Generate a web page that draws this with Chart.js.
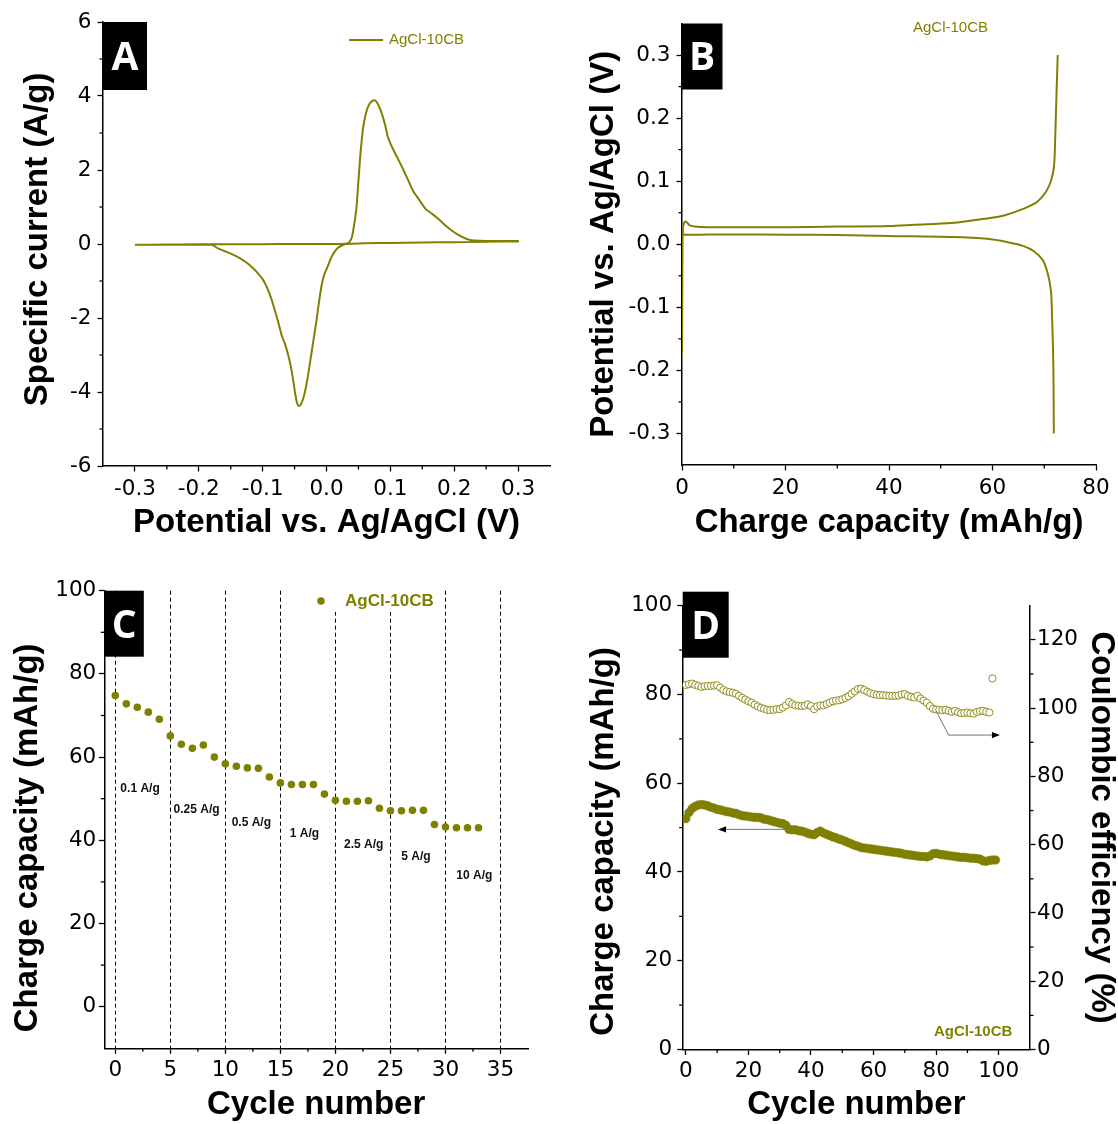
<!DOCTYPE html>
<html><head><meta charset="utf-8">
<script src="https://cdn.jsdelivr.net/npm/chart.js@4.4.1/dist/chart.umd.min.js"></script>
<style>
html,body{margin:0;padding:0;background:#fff}
body{width:1118px;height:1124px;position:relative;overflow:hidden}
canvas{position:absolute;display:block}
</style></head><body>
<canvas id="cA" width="559" height="560" style="left:0;top:0"></canvas>
<canvas id="cB" width="559" height="560" style="left:559px;top:0"></canvas>
<canvas id="cC" width="559" height="564" style="left:0;top:560px"></canvas>
<canvas id="cD" width="559" height="564" style="left:559px;top:560px"></canvas>
<script>
// ---------- DATA ----------
// Panel A: cyclic voltammogram (forward scan then reverse scan)
const cvPotential = [-0.30,-0.25,-0.20,-0.15,-0.10,-0.05,0.00,0.030,0.036,0.040,0.044,0.047,0.050,0.053,0.057,0.062,0.067,0.072,0.076,0.080,0.084,0.088,0.092,0.096,0.100,0.106,0.112,0.120,0.128,0.136,0.145,0.155,0.165,0.175,0.185,0.195,0.205,0.215,0.225,0.240,0.270,0.300,
  0.300,0.250,0.200,0.150,0.100,0.060,0.040,0.030,0.024,0.018,0.013,0.007,0.002,-0.004,-0.008,-0.012,-0.016,-0.020,-0.024,-0.028,-0.032,-0.036,-0.040,-0.043,-0.046,-0.049,-0.052,-0.056,-0.060,-0.065,-0.070,-0.075,-0.080,-0.086,-0.093,-0.100,-0.108,-0.117,-0.127,-0.138,-0.150,-0.160,-0.170,-0.176,-0.180,-0.240,-0.300];
const cvCurrent = [-0.02,-0.015,-0.01,-0.005,-0.005,0.0,0.0,0.01,0.05,0.2,0.6,1.0,1.7,2.4,3.1,3.55,3.78,3.87,3.88,3.8,3.65,3.45,3.2,2.9,2.72,2.5,2.3,2.02,1.72,1.42,1.2,0.95,0.82,0.68,0.52,0.38,0.26,0.17,0.11,0.09,0.08,0.08,
  0.07,0.06,0.05,0.04,0.03,0.02,0.01,0.0,-0.04,-0.1,-0.2,-0.38,-0.6,-0.85,-1.15,-1.6,-2.1,-2.55,-3.0,-3.45,-3.85,-4.15,-4.33,-4.38,-4.3,-4.05,-3.7,-3.3,-3.0,-2.7,-2.48,-2.15,-1.85,-1.5,-1.18,-0.95,-0.78,-0.62,-0.48,-0.36,-0.26,-0.19,-0.12,-0.05,-0.02,-0.02,-0.02];

// Panel B: galvanostatic charge / discharge
const chgCapacity = [0,0.05,0.1,0.2,0.4,0.7,1.0,1.5,2.5,5,10,20,30,40,45,52.1,59.0,62.4,65.9,68.6,70.4,71.4,71.9,72.1,72.3,72.6];
const chgPotential = [-0.175,-0.1,0.0,0.025,0.034,0.036,0.034,0.030,0.028,0.027,0.027,0.027,0.028,0.029,0.031,0.0336,0.041,0.046,0.056,0.067,0.084,0.103,0.125,0.164,0.219,0.300];
const dchCapacity = [0,0.3,1,5,10,20,30,40,52.1,59.0,63.1,65.9,68.0,69.7,70.7,71.3,71.5,71.7,71.8,71.85];
const dchPotential = [0.022,0.016,0.015,0.0155,0.0155,0.0152,0.0145,0.013,0.0114,0.0086,0.003,-0.0025,-0.011,-0.025,-0.047,-0.075,-0.113,-0.169,-0.225,-0.300];

// Panel C: rate capability
const rateCycle = [0,1,2,3,4,5,6,7,8,9,10,11,12,13,14,15,16,17,18,19,20,21,22,23,24,25,26,27,28,29,30,31,32,33];
const rateCapacity = [74.8,72.8,72.0,70.8,69.1,65.1,63.1,62.1,62.9,60.0,58.4,57.8,57.4,57.3,55.2,53.8,53.4,53.4,53.4,51.1,49.6,49.4,49.4,49.5,47.7,47.1,47.1,47.2,47.2,43.8,43.2,43.0,43.0,43.0];
const rateNames = ['0.1 A/g','0.25 A/g','0.5 A/g','1 A/g','2.5 A/g','5 A/g','10 A/g'];
const rateNameX = [0.46,5.29,10.57,15.86,20.78,25.98,30.99];
const rateNameY = [52.4,47.4,44.2,41.6,38.9,36.1,31.5];

// Panel D: cycling stability
const cycleNo = Array.from({length:100},(_,i)=>i);
const cycleCapacity = [52.0,53.4,54.3,54.8,55.1,55.2,55.1,54.9,54.6,54.4,54.1,54.0,53.8,53.6,53.5,53.3,53.2,52.9,52.7,52.6,
  52.5,52.4,52.3,52.3,52.2,51.9,51.8,51.6,51.4,51.2,51.0,50.9,50.5,49.6,49.5,49.5,49.3,49.2,49.0,48.7,
  48.5,48.4,48.9,49.2,48.8,48.5,48.2,47.9,47.7,47.4,47.2,46.9,46.6,46.3,46.0,45.8,45.5,45.4,45.3,45.2,
  45.1,45.0,44.9,44.8,44.7,44.6,44.5,44.4,44.3,44.2,44.0,43.9,43.8,43.7,43.6,43.5,43.5,43.4,43.6,44.1,
  44.2,44.0,43.9,43.8,43.7,43.6,43.5,43.4,43.3,43.3,43.2,43.1,43.1,43.0,42.9,42.5,42.4,42.6,42.7,42.7];
const cycleCE = [106.8,107.0,107.2,106.8,106.5,106.2,106.4,106.5,106.5,106.6,106.7,106.0,105.3,104.9,104.7,104.5,104.2,103.6,103.0,102.5,
  102.0,101.6,101.0,100.5,100.1,99.8,99.5,99.4,99.5,99.7,99.7,100.2,100.8,101.8,101.2,100.8,100.7,100.6,100.7,101.1,
  100.6,99.7,100.5,100.8,100.8,101.2,101.6,102.0,102.2,102.3,102.6,103.0,103.5,104.2,104.9,105.6,105.7,105.3,104.8,104.4,
  104.1,103.9,103.8,103.8,103.7,103.6,103.6,103.6,103.7,104.0,104.1,103.6,103.3,103.1,103.6,102.8,102.2,101.6,100.6,99.8,
  99.6,99.5,99.4,99.5,99.2,98.9,99.2,98.8,98.5,98.6,98.7,98.5,98.4,98.9,99.1,99.2,98.9,98.7,108.7];

// Tick values
const aXTicks=[-0.3,-0.2,-0.1,0,0.1,0.2,0.3], aXMinor=[-0.25,-0.15,-0.05,0.05,0.15,0.25];
const aYTicks=[-6,-4,-2,0,2,4,6], aYMinor=[-5,-3,-1,1,3,5];
const bXTicks=[0,20,40,60,80], bXMinor=[10,30,50,70];
const bYTicks=[-0.3,-0.2,-0.1,0,0.1,0.2,0.3], bYMinor=[-0.25,-0.15,-0.05,0.05,0.15,0.25];
const cXTicks=[0,5,10,15,20,25,30,35], cXMinor=[2.5,7.5,12.5,17.5,22.5,27.5,32.5];
const cYTicks=[0,20,40,60,80,100], cYMinor=[10,30,50,70,90];
const dXTicks=[0,20,40,60,80,100], dXMinor=[10,30,50,70,90];
const dYTicks=[0,20,40,60,80,100], dYMinor=[10,30,50,70,90];
const dY2Ticks=[0,20,40,60,80,100,120], dY2Minor=[10,30,50,70,90,110];

// ---------- STYLE ----------
const OLIVE='#808000';
const SANS="'Liberation Sans', Arial, sans-serif";
const TICK_FONT={family:"'DejaVu Sans', sans-serif", size:21.5};
const TITLE_FONT={family:SANS, size:33, weight:'bold', lineHeight:1};

function scale(o){
  return {
    type:'linear', position:o.position, min:o.min, max:o.max,
    afterBuildTicks:s=>{ s.ticks=o.ticks.map(v=>({value:v})); },
    afterFit:s=>{ if(s.isHorizontal()) s.height=o.size; else s.width=o.size; },
    ticks:{autoSkip:false, maxRotation:0, minRotation:0, color:'#000', font:TICK_FONT, padding:o.pad,
      callback:v=>o.fmt?o.fmt(v):String(v)},
    grid:{drawOnChartArea:!!o.dash, color:'#000', lineWidth:1, tickLength:5.5, tickColor:'#000', tickWidth:1.3},
    border:{display:true, color:'#000', width:1.5, dash:o.dash||[]},
    title:{display:true, text:o.title, color:'#000', font:TITLE_FONT, padding:o.tpad}
  };
}

function decor(cfg){
  return {
    id:'decor'+cfg.box.t,
    afterDraw(chart){
      const ctx=chart.ctx, ca=chart.chartArea, sc=chart.scales;
      ctx.save();
      ctx.strokeStyle='#000'; ctx.lineWidth=1.3;
      for(const id in cfg.minor){
        const s=sc[id];
        cfg.minor[id].forEach(v=>{
          const p=s.getPixelForValue(v);
          ctx.beginPath();
          if(s.isHorizontal()){ctx.moveTo(p,s.top);ctx.lineTo(p,s.top+3.5);}
          else if(s.position==='left'){ctx.moveTo(s.right,p);ctx.lineTo(s.right-3.5,p);}
          else {ctx.moveTo(s.left,p);ctx.lineTo(s.left+3.5,p);}
          ctx.stroke();
        });
      }
      if(cfg.extra) cfg.extra(chart,ctx);
      const b=cfg.box;
      ctx.fillStyle='#000';
      ctx.fillRect(ca.left+b.dx, ca.top+b.dy, b.w, b.h);
      ctx.fillStyle='#fff';
      ctx.font="bold 39px 'Open Sans', sans-serif";
      ctx.textAlign='center'; ctx.textBaseline='alphabetic';
      ctx.fillText(b.t, ca.left+b.dx+b.w/2, ca.top+b.dy+b.h/2+0.357*39);
      ctx.restore();
    }
  };
}

function baseOpts(pad){
  return {responsive:false, animation:false, events:[],
    layout:{padding:pad},
    plugins:{legend:{display:false}, tooltip:{enabled:false}}};
}
const fmt1=v=>v.toFixed(1);
const pts=(xs,ys)=>xs.map((x,i)=>({x:x,y:ys[i]}));

function arrowHead(ctx,x,y,dir){
  ctx.beginPath(); ctx.moveTo(x,y); ctx.lineTo(x-dir*8,y-3.2); ctx.lineTo(x-dir*8,y+3.2); ctx.closePath(); ctx.fill();
}

// ---------- PANEL A ----------
new Chart(document.getElementById('cA'),{
  type:'scatter',
  data:{datasets:[{data:pts(cvPotential,cvCurrent), showLine:true, pointRadius:0, borderColor:OLIVE, borderWidth:2, tension:0.2}]},
  options:Object.assign(baseOpts({left:0,top:22,right:9,bottom:0}),{
    scales:{
      x:scale({position:'bottom',min:-0.35,max:0.35,ticks:aXTicks,fmt:fmt1,size:94,pad:5,title:'Potential vs. Ag/AgCl (V)',tpad:{top:0,bottom:20.5}}),
      y:scale({position:'left',min:-6,max:6,ticks:aYTicks,size:103,pad:6,title:' Specific current (A/g)',tpad:{top:21.5,bottom:0}})
    }}),
  plugins:[decor({minor:{x:aXMinor,y:aYMinor}, box:{t:'A',dx:0,dy:0,w:44,h:68},
    extra:(chart,ctx)=>{
      ctx.strokeStyle=OLIVE; ctx.lineWidth=2;
      ctx.beginPath(); ctx.moveTo(349,40); ctx.lineTo(383,40); ctx.stroke();
      ctx.fillStyle=OLIVE; ctx.font="15px "+SANS; ctx.textAlign='left'; ctx.textBaseline='middle';
      ctx.fillText('AgCl-10CB',389,40);
    }})]
});

// ---------- PANEL B ----------
new Chart(document.getElementById('cB'),{
  type:'scatter',
  data:{datasets:[
    {data:pts(chgCapacity,chgPotential), showLine:true, pointRadius:0, borderColor:OLIVE, borderWidth:2, tension:0.3},
    {data:pts(dchCapacity,dchPotential), showLine:true, pointRadius:0, borderColor:OLIVE, borderWidth:2, tension:0.3}
  ]},
  options:Object.assign(baseOpts({left:0,top:23.5,right:22,bottom:0}),{
    scales:{
      x:scale({position:'bottom',min:0,max:80,ticks:bXTicks,size:95,pad:5,title:'Charge capacity (mAh/g)',tpad:{top:0,bottom:20.5}}),
      y:scale({position:'left',min:-0.35,max:0.35,ticks:bYTicks,fmt:fmt1,size:123,pad:6,title:'Potential vs. Ag/AgCl (V)',tpad:{top:28.5,bottom:0}})
    }}),
  plugins:[decor({minor:{x:bXMinor,y:bYMinor}, box:{t:'B',dx:-0.5,dy:0,w:41,h:66},
    extra:(chart,ctx)=>{
      ctx.fillStyle=OLIVE; ctx.font="15px "+SANS; ctx.textAlign='left'; ctx.textBaseline='middle';
      ctx.fillText('AgCl-10CB',354,28);
    }})]
});

// ---------- PANEL C ----------
new Chart(document.getElementById('cC'),{
  type:'scatter',
  data:{datasets:[{data:pts(rateCycle,rateCapacity), pointRadius:3.8, pointBackgroundColor:OLIVE, pointBorderWidth:0, showLine:false}]},
  options:Object.assign(baseOpts({left:0,top:30.7,right:31,bottom:0}),{
    scales:{
      x:scale({position:'bottom',min:-1,max:37.5,ticks:cXTicks,size:75.7,pad:3.5,dash:[4,3],title:'Cycle number',tpad:{top:0,bottom:2.5}}),
      y:scale({position:'left',min:-10,max:100,ticks:cYTicks,size:104.3,pad:2.5,title:'Charge capacity (mAh/g)    ',tpad:{top:11,bottom:0}})
    }}),
  plugins:[decor({minor:{x:cXMinor,y:cYMinor}, box:{t:'C',dx:0.5,dy:0,w:39,h:66},
    extra:(chart,ctx)=>{
      const sx=chart.scales.x, sy=chart.scales.y;
      ctx.fillStyle='#111'; ctx.font="bold 12px "+SANS; ctx.textAlign='left'; ctx.textBaseline='middle';
      rateNames.forEach((t,i)=>ctx.fillText(t, sx.getPixelForValue(rateNameX[i]), sy.getPixelForValue(rateNameY[i])));
      // legend
      ctx.fillStyle='#fff'; ctx.fillRect(300,30,137,22);
      ctx.fillStyle=OLIVE; ctx.beginPath(); ctx.arc(321,41,3.8,0,Math.PI*2); ctx.fill();
      ctx.font="bold 17px "+SANS; ctx.fillText('AgCl-10CB',345,41);
    }})]
});

// ---------- PANEL D ----------
new Chart(document.getElementById('cD'),{
  type:'scatter',
  data:{datasets:[
    {data:pts(cycleNo,cycleCapacity), yAxisID:'y', pointRadius:4.3, pointBackgroundColor:OLIVE, pointBorderColor:OLIVE, pointBorderWidth:0.5, showLine:false},
    {data:pts(cycleNo.slice(0,cycleCE.length),cycleCE), yAxisID:'y2', pointRadius:3.6, pointBackgroundColor:'#fff', pointBorderColor:'#8f8f20', pointBorderWidth:1, showLine:false}
  ]},
  options:Object.assign(baseOpts({left:0,top:45.7,right:0,bottom:0}),{
    scales:{
      x:scale({position:'bottom',min:-1,max:110,ticks:dXTicks,size:74.5,pad:3.5,title:'Cycle number',tpad:{top:0,bottom:2.5}}),
      y:scale({position:'left',min:0,max:100,ticks:dYTicks,size:123.7,pad:5,title:'Charge capacity (mAh/g)   ',tpad:{top:28,bottom:0}}),
      y2:scale({position:'right',min:0,max:130,ticks:dY2Ticks,size:88,pad:1.5,title:'Coulombic efficiency (%)',tpad:{top:0,bottom:0}})
    }}),
  plugins:[decor({minor:{x:dXMinor,y:dYMinor,y2:dY2Minor}, box:{t:'D',dx:0,dy:-14,w:46,h:66},
    extra:(chart,ctx)=>{
      const sx=chart.scales.x, sy=chart.scales.y, s2=chart.scales.y2;
      ctx.strokeStyle='#777'; ctx.lineWidth=1; ctx.fillStyle='#000';
      // CE arrow (to the right axis)
      ctx.beginPath();
      ctx.moveTo(sx.getPixelForValue(80),s2.getPixelForValue(99.2));
      ctx.lineTo(sx.getPixelForValue(84),s2.getPixelForValue(92.1));
      ctx.lineTo(sx.getPixelForValue(99.5),s2.getPixelForValue(92.1));
      ctx.stroke();
      arrowHead(ctx,sx.getPixelForValue(100.4),s2.getPixelForValue(92.1),1);
      // capacity arrow (to the left axis)
      ctx.beginPath();
      ctx.moveTo(sx.getPixelForValue(32.7),sy.getPixelForValue(49.6));
      ctx.lineTo(sx.getPixelForValue(11.2),sy.getPixelForValue(49.6));
      ctx.stroke();
      arrowHead(ctx,sx.getPixelForValue(10.3),sy.getPixelForValue(49.6),-1);
      ctx.fillStyle=OLIVE; ctx.font="bold 15px "+SANS; ctx.textAlign='left'; ctx.textBaseline='middle';
      ctx.fillText('AgCl-10CB',375,472);
    }})]
});
</script>
</body></html>
